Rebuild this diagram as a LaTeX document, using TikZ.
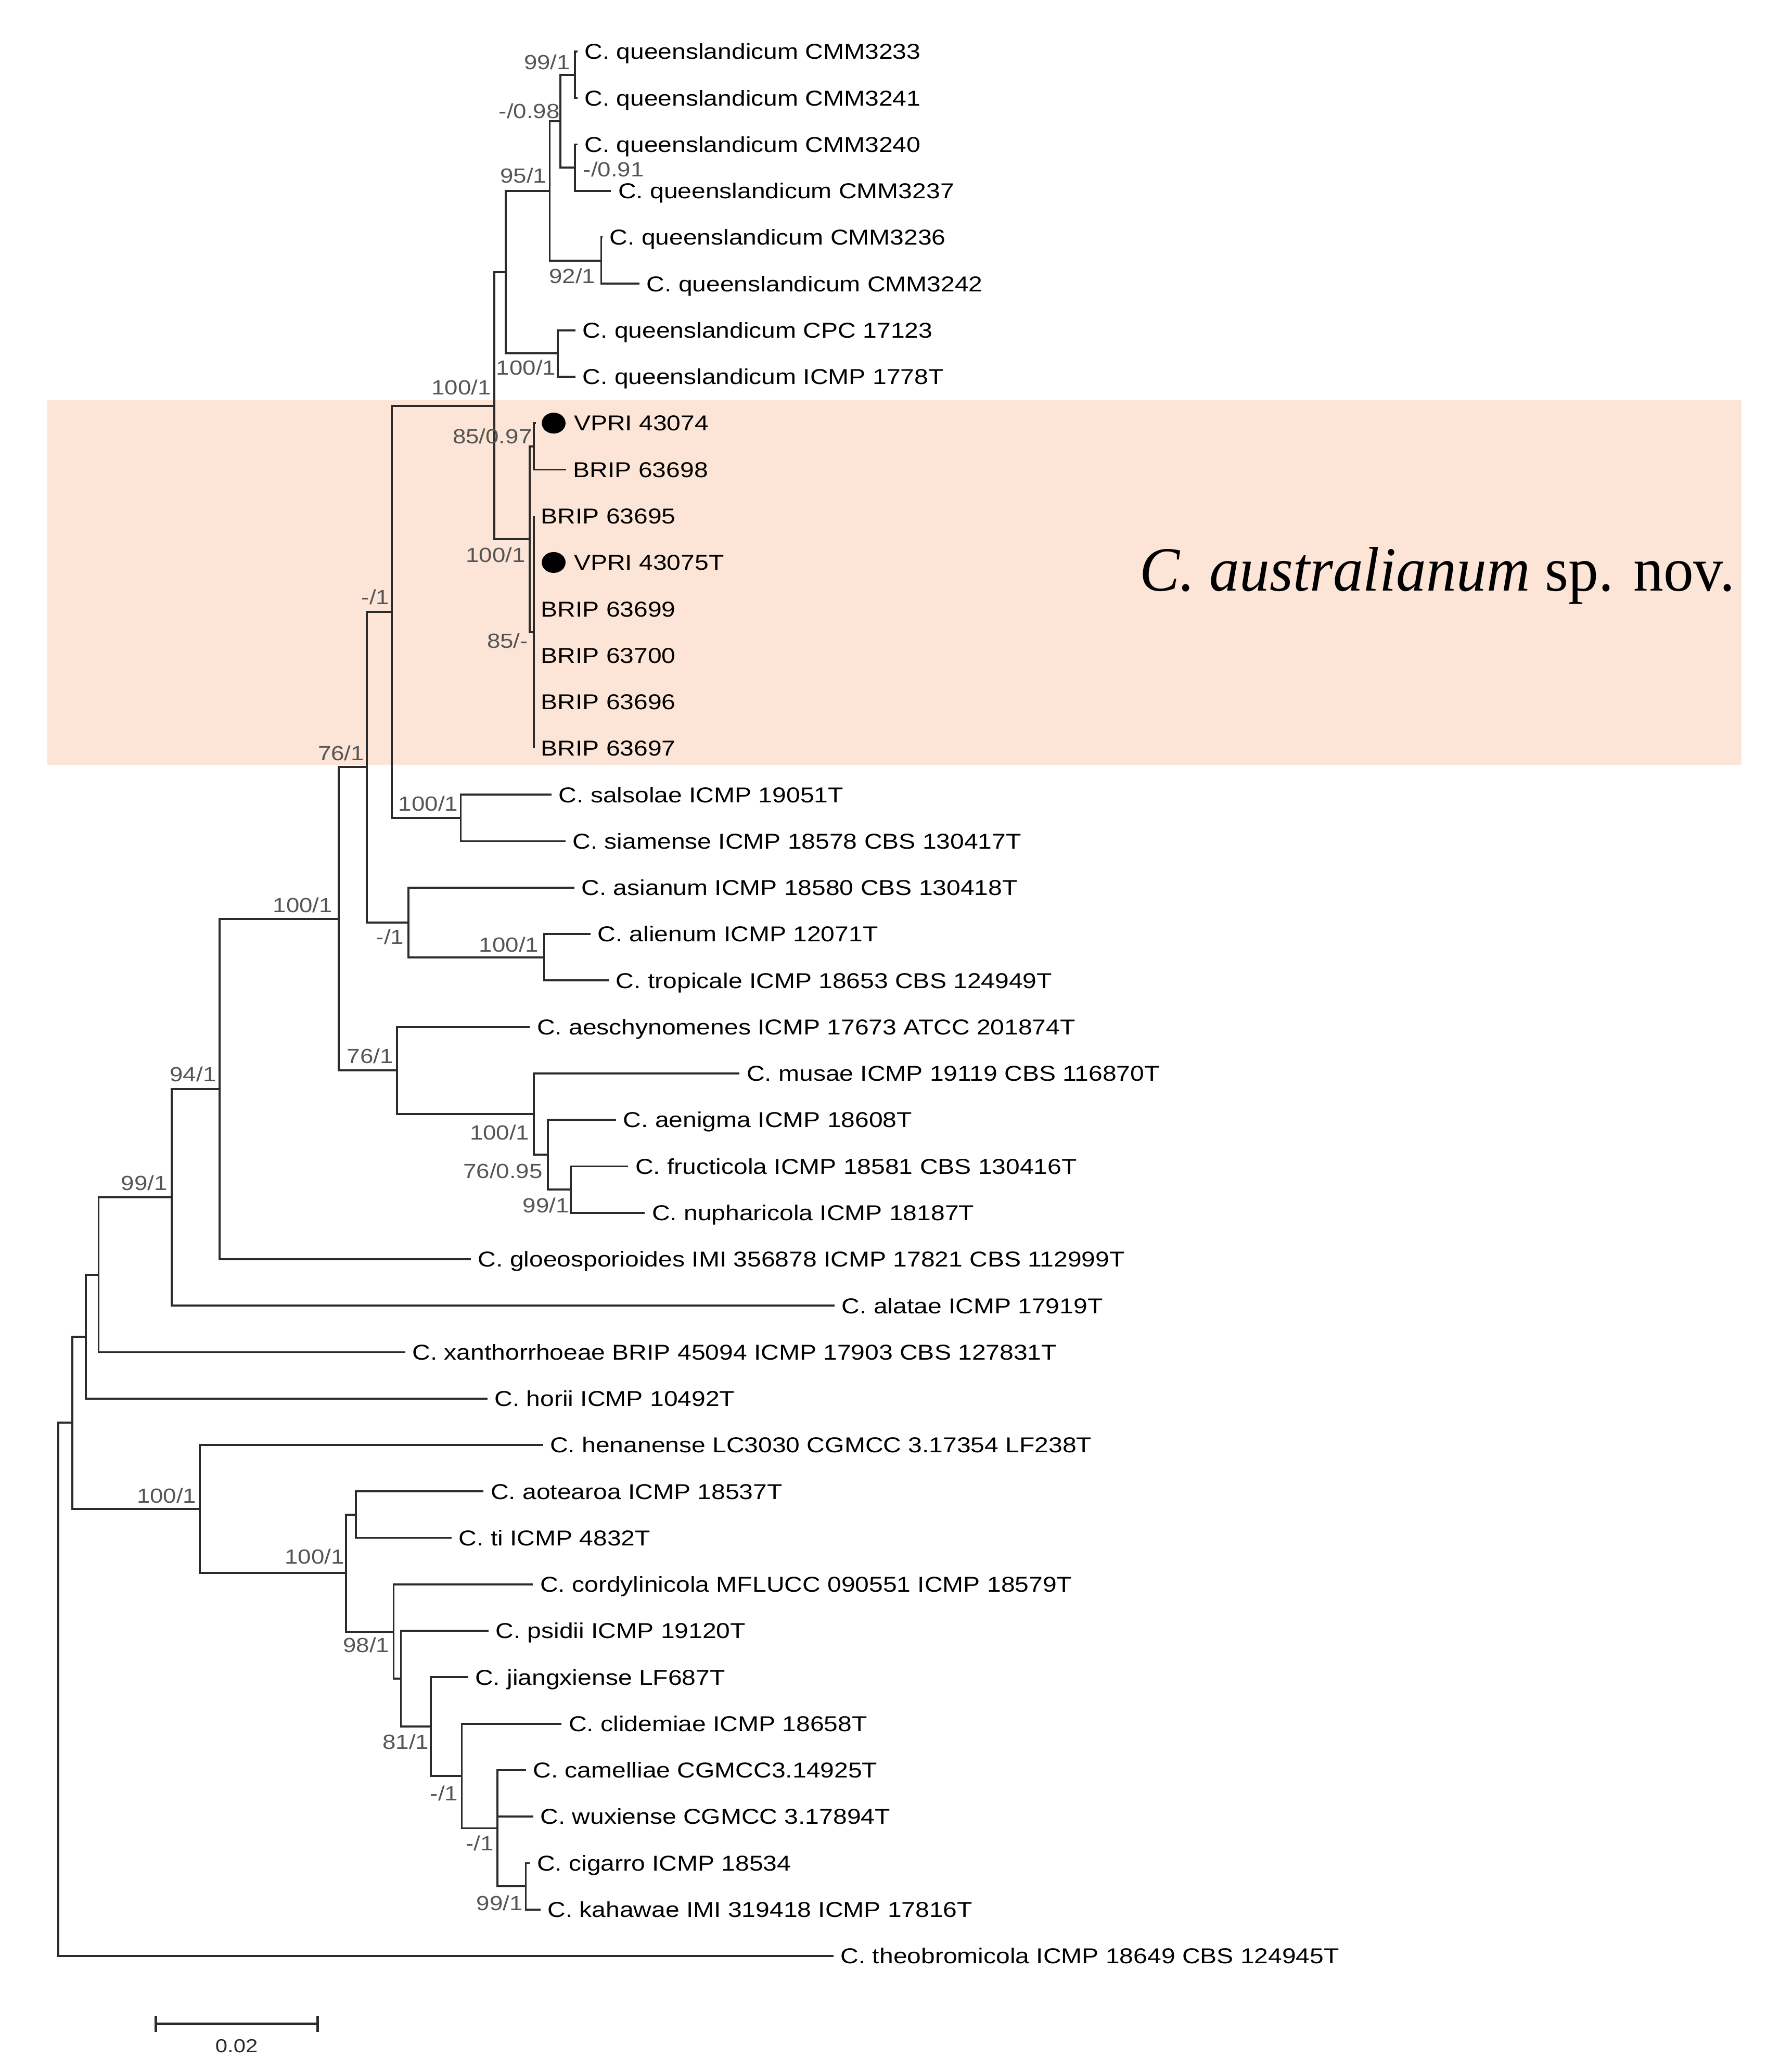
\documentclass[tikz,border=0pt]{standalone}
\usepackage{fontspec}
\setmainfont{Liberation Sans}[FakeStretch=1.16]
\newfontfamily\bigserif{Liberation Serif}[FakeStretch=0.955]
\usetikzlibrary{shapes.geometric}
\definecolor{band}{HTML}{FCE4D6}
\definecolor{brc}{HTML}{2B2B2B}
\definecolor{supc}{HTML}{555555}
\newcommand\leafnode[4]{\coordinate (l#1) at (#2,#3); \node[sp] (t#1) at (l#1) {#4};}
\begin{document}
\begin{tikzpicture}[x=0.5pt,y=-0.5pt,
  br/.style={draw=brc,line width=0.75pt},
  sp/.style={anchor=west,inner xsep=2.5pt,inner ysep=0pt,text height=5.84pt,text depth=0pt,font=\fontsize{8.15}{9}\selectfont,text=black},
  sup/.style={anchor=east,inner sep=0pt,text height=5.55pt,text depth=0pt,font=\fontsize{7.75}{9}\selectfont,text=supc},
  supl/.style={sup,anchor=west},
  dotn/.style={ellipse,fill=black,inner sep=0pt,minimum width=9pt,minimum height=7.9pt}]
\useasboundingbox (0,0) rectangle (1337,1568);
\fill[band] (36,303) rectangle (1318,579);
\node[anchor=base west,inner sep=0pt] (spnov) at (862,447) {\bigserif\fontsize{23.8}{28}\selectfont\itshape C. australianum\upshape{} sp. nov.};
% leaves
\leafnode{1}{437}{39}{C. queenslandicum CMM3233}
\leafnode{2}{437}{74.15}{C. queenslandicum CMM3241}
\leafnode{3}{437}{109.3}{C. queenslandicum CMM3240}
\leafnode{4}{462.4}{144.45}{C. queenslandicum CMM3237}
\leafnode{5}{456}{179.6}{C. queenslandicum CMM3236}
\leafnode{6}{484}{214.75}{C. queenslandicum CMM3242}
\leafnode{7}{435.5}{249.9}{C. queenslandicum CPC 17123}
\leafnode{8}{435.5}{285.05}{C. queenslandicum ICMP 1778T}
\coordinate (l9) at (405.5,320.2);
\node[dotn] (d9) at (419,320.2) {};
\node[sp] (t9) at (429,320.2) {VPRI 43074};
\leafnode{10}{428.5}{355.35}{BRIP 63698}
\leafnode{11}{404}{390.5}{BRIP 63695}
\coordinate (l12) at (404,425.65);
\node[dotn] (d12) at (419,425.65) {};
\node[sp] (t12) at (429,425.65) {VPRI 43075T};
\leafnode{13}{404}{460.8}{BRIP 63699}
\leafnode{14}{404}{495.95}{BRIP 63700}
\leafnode{15}{404}{531.1}{BRIP 63696}
\leafnode{16}{404}{566.25}{BRIP 63697}
\leafnode{17}{417.4}{601.4}{C. salsolae ICMP 19051T}
\leafnode{18}{428}{636.55}{C. siamense ICMP 18578 CBS 130417T}
\leafnode{19}{434.7}{671.7}{C. asianum ICMP 18580 CBS 130418T}
\leafnode{20}{446.8}{706.85}{C. alienum ICMP 12071T}
\leafnode{21}{460.8}{742}{C. tropicale ICMP 18653 CBS 124949T}
\leafnode{22}{401}{777.15}{C. aeschynomenes ICMP 17673 ATCC 201874T}
\leafnode{23}{559.7}{812.3}{C. musae ICMP 19119 CBS 116870T}
\leafnode{24}{466.3}{847.45}{C. aenigma ICMP 18608T}
\leafnode{25}{475.4}{882.6}{C. fructicola ICMP 18581 CBS 130416T}
\leafnode{26}{488}{917.75}{C. nupharicola ICMP 18187T}
\leafnode{27}{356.4}{952.9}{C. gloeosporioides IMI 356878 ICMP 17821 CBS 112999T}
\leafnode{28}{631.6}{988.05}{C. alatae ICMP 17919T}
\leafnode{29}{306.7}{1023.2}{C. xanthorrhoeae BRIP 45094 ICMP 17903 CBS 127831T}
\leafnode{30}{368.9}{1058.35}{C. horii ICMP 10492T}
\leafnode{31}{410.9}{1093.5}{C. henanense LC3030 CGMCC 3.17354 LF238T}
\leafnode{32}{366}{1128.65}{C. aotearoa ICMP 18537T}
\leafnode{33}{341.8}{1163.8}{C. ti ICMP 4832T}
\leafnode{34}{403.4}{1198.95}{C. cordylinicola MFLUCC 090551 ICMP 18579T}
\leafnode{35}{369.7}{1234.1}{C. psidii ICMP 19120T}
\leafnode{36}{354.2}{1269.25}{C. jiangxiense LF687T}
\leafnode{37}{425}{1304.4}{C. clidemiae ICMP 18658T}
\leafnode{38}{398}{1339.55}{C. camelliae CGMCC3.14925T}
\leafnode{39}{403.5}{1374.7}{C. wuxiense CGMCC 3.17894T}
\leafnode{40}{401}{1409.85}{C. cigarro ICMP 18534}
\leafnode{41}{409}{1445}{C. kahawae IMI 319418 ICMP 17816T}
\leafnode{42}{630.8}{1480.15}{C. theobromicola ICMP 18649 CBS 124945T}
% internal nodes
\coordinate (A1) at (435,56.6);
\coordinate (A2) at (435,126.9);
\coordinate (A3) at (424,91.7);
\coordinate (A4) at (455,197.2);
\coordinate (A5) at (416,144.4);
\coordinate (A6) at (422,267.5);
\coordinate (A7) at (382.6,205.9);
\coordinate (B1) at (404,337.8);
\coordinate (B2) at (404,478.4);
\coordinate (B3) at (401,408.1);
\coordinate (C1) at (374,307);
\coordinate (D1) at (348.7,619);
\coordinate (C2) at (296.5,463);
\coordinate (E1) at (411.7,724.4);
\coordinate (E2) at (309,698);
\coordinate (C3) at (277.7,580.5);
\coordinate (F1) at (432,900.2);
\coordinate (F2) at (414.5,873.8);
\coordinate (F3) at (404,843);
\coordinate (F4) at (300.3,810.1);
\coordinate (G1) at (256.4,695.3);
\coordinate (G2) at (166.3,824.1);
\coordinate (G3) at (129.9,906.1);
\coordinate (G4) at (74.6,964.6);
\coordinate (G5) at (64.9,1011.5);
\coordinate (H1) at (269.4,1146.2);
\coordinate (H2) at (397.9,1427.4);
\coordinate (H3) at (376.3,1383.5);
\coordinate (H4) at (349.5,1344);
\coordinate (H5) at (326,1306.6);
\coordinate (H6) at (303.4,1270.4);
\coordinate (H7) at (297.9,1234.7);
\coordinate (H8) at (262,1190.4);
\coordinate (H9) at (151.1,1142);
\coordinate (R1) at (54.7,1076.7);
\coordinate (R0) at (44.2,1278.4);
% branches
\foreach \p/\c in {A1/l1,A1/l2,A2/l3,A2/l4,A3/A1,A3/A2,A4/l5,A4/l6,A5/A3,A5/A4,A6/l7,A6/l8,A7/A5,A7/A6,
  B1/l9,B1/l10,B2/l11,B2/l12,B2/l13,B2/l14,B2/l15,B2/l16,B3/B1,B3/B2,C1/A7,C1/B3,
  D1/l17,D1/l18,C2/C1,C2/D1,E1/l20,E1/l21,E2/l19,E2/E1,C3/C2,C3/E2,
  F1/l25,F1/l26,F2/l24,F2/F1,F3/l23,F3/F2,F4/l22,F4/F3,G1/C3,G1/F4,G2/G1,G2/l27,G3/G2,G3/l28,
  G4/G3,G4/l29,G5/G4,G5/l30,H1/l32,H1/l33,H2/l40,H2/l41,H3/l38,H3/l39,H3/H2,H4/l37,H4/H3,
  H5/l36,H5/H4,H6/l35,H6/H5,H7/l34,H7/H6,H8/H1,H8/H7,H9/l31,H9/H8,R1/G5,R1/H9,R0/R1,R0/l42}
  \draw[br] (\p) |- (\c);
% support values
\node[sup] (s1) at (432,47) {99/1};
\node[sup] (s2) at (424,84) {-/0.98};
\node[supl] (s3) at (441,128) {-/0.91};
\node[sup] (s4) at (414,133) {95/1};
\node[sup] (s5) at (451,209) {92/1};
\node[sup] (s6) at (421,278) {100/1};
\node[sup] (s7) at (372,293) {100/1};
\node[sup] (s8) at (403,330) {85/0.97};
\node[sup] (s9) at (398,420) {100/1};
\node[sup] (s10) at (400,485) {85/-};
\node[sup] (s11) at (295,452) {-/1};
\node[sup] (s12) at (276,570) {76/1};
\node[sup] (s13) at (347,608) {100/1};
\node[sup] (s14) at (252,685) {100/1};
\node[sup] (s15) at (306,709) {-/1};
\node[sup] (s16) at (408,715) {100/1};
\node[sup] (s17) at (298,799) {76/1};
\node[sup] (s18) at (164,813) {94/1};
\node[sup] (s19) at (401,857) {100/1};
\node[sup] (s20) at (411,886) {76/0.95};
\node[sup] (s21) at (431,912) {99/1};
\node[sup] (s22) at (127,895) {99/1};
\node[sup] (s23) at (149,1132) {100/1};
\node[sup] (s24) at (261,1178) {100/1};
\node[sup] (s25) at (295,1245) {98/1};
\node[sup] (s26) at (325,1318) {81/1};
\node[sup] (s27) at (347,1357) {-/1};
\node[sup] (s28) at (374,1395) {-/1};
\node[sup] (s29) at (396,1440) {99/1};
% scale bar
\coordinate (sb1) at (118,1531.6);
\coordinate (sb2) at (240.4,1531.6);
\draw[br,line width=0.9pt] (sb1) -- (sb2);
\draw[br,line width=0.9pt] ([yshift=3pt]sb1) -- ([yshift=-3pt]sb1);
\draw[br,line width=0.9pt] ([yshift=3pt]sb2) -- ([yshift=-3pt]sb2);
\node[inner sep=0pt,text height=5.1pt,text depth=0pt,font=\fontsize{7.1}{9}\selectfont,text=brc] (sbl) at (179,1548) {0.02};
\end{tikzpicture}
\end{document}
